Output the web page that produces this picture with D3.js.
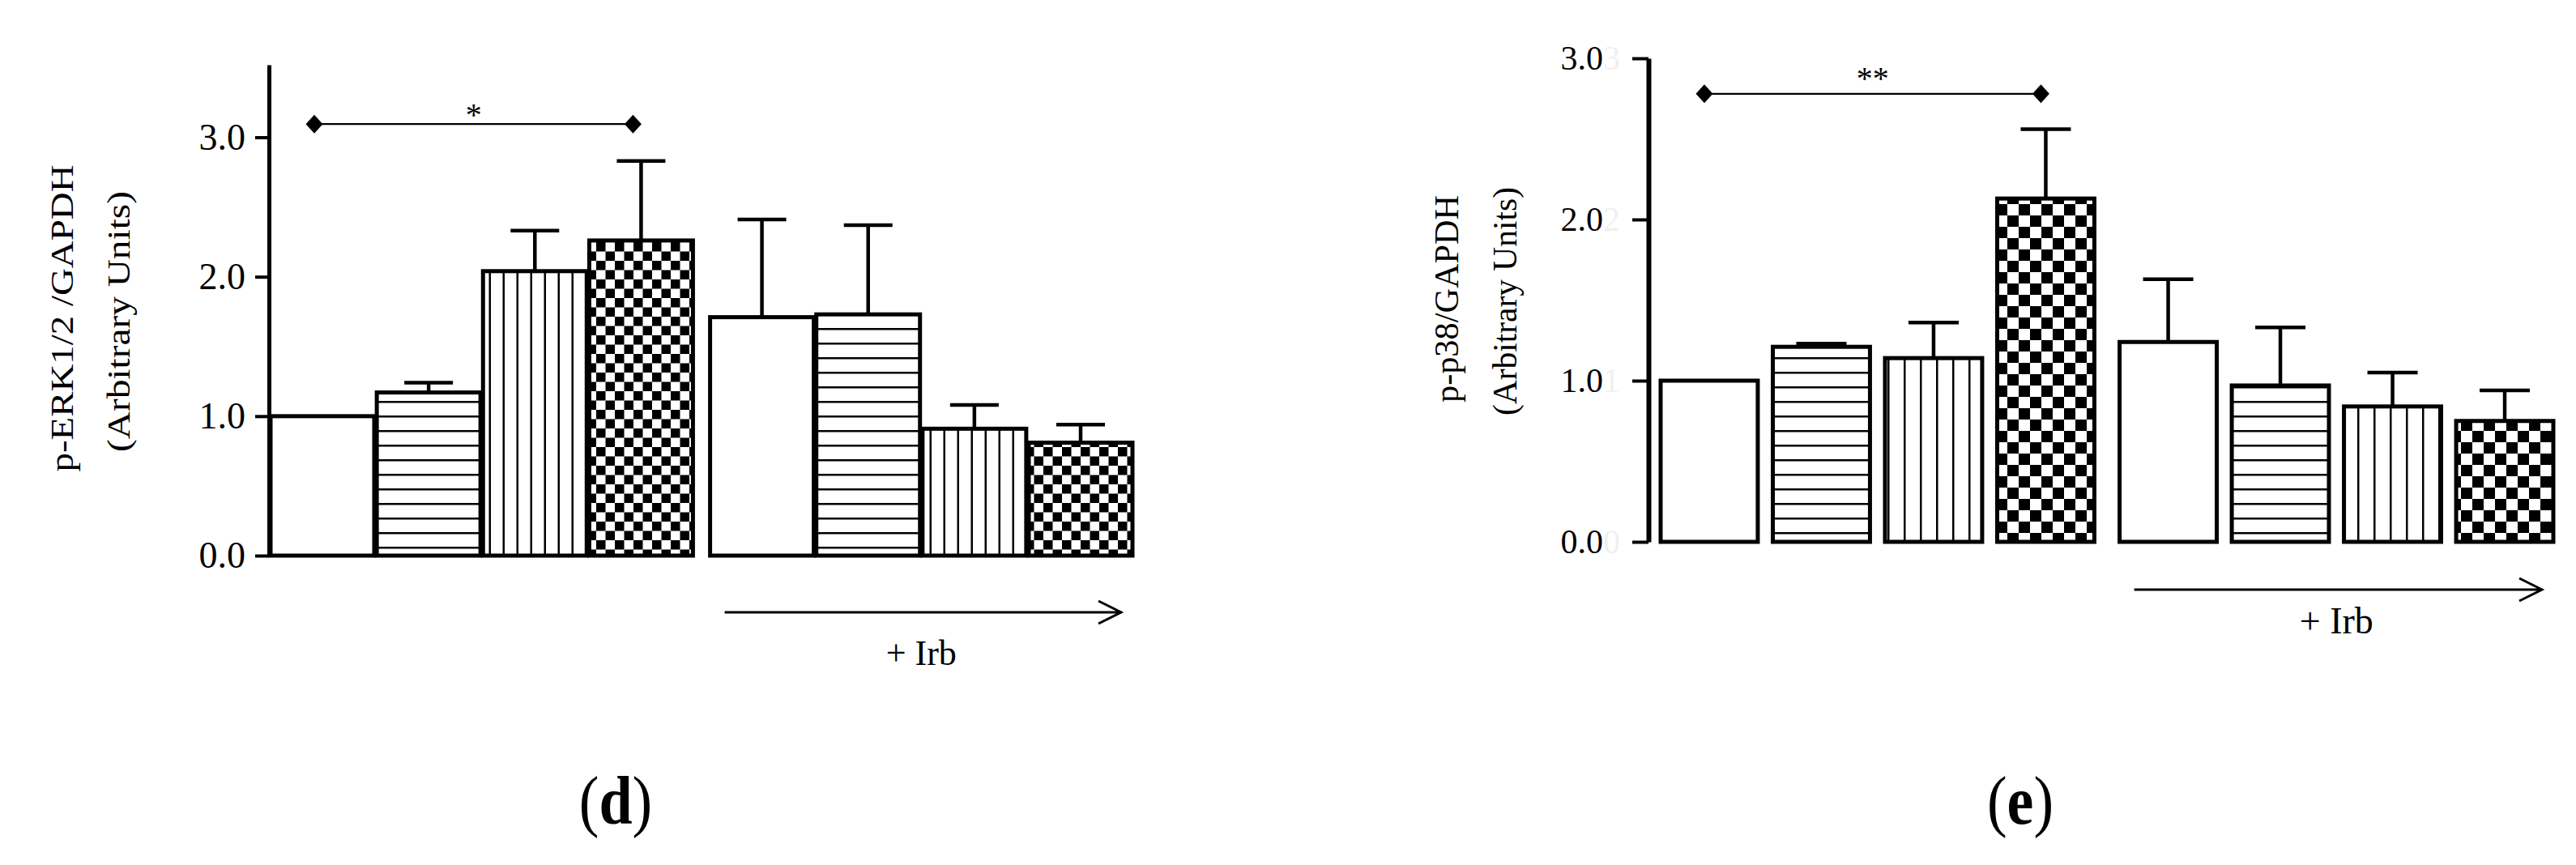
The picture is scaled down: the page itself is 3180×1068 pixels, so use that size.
<!DOCTYPE html>
<html>
<head>
<meta charset="utf-8">
<script src="https://cdn.jsdelivr.net/npm/d3@7/dist/d3.min.js"></script>
<style>
body { margin: 0; background: #fff; }
text { font-family: "Liberation Serif", "Times New Roman", serif; fill: #000; }
</style>
</head>
<body>
<script>
// bars come in two groups of four: without and with irbesartan
var groups = ["noIrb", "irb"];
var conditions = ["c1", "c2", "c3", "c4"];
var fills = ["plain", "hlines", "vlines", "checker"];
var yTicks = [0, 1, 2, 3];

// panel d: p-ERK1/2 / GAPDH
var erkMean = [1.00, 1.17, 2.04, 2.26, 1.71, 1.73, 0.91, 0.81];
var erkErr = [0, 0.07, 0.29, 0.57, 0.70, 0.64, 0.17, 0.13];
var erkSig = 3.095;

// panel e: p-p38 / GAPDH
var p38Mean = [1.00, 1.21, 1.14, 2.13, 1.24, 0.97, 0.84, 0.75];
var p38Err = [0, 0.02, 0.22, 0.43, 0.39, 0.36, 0.21, 0.19];
var p38Sig = 2.78;

var W = 3180, H = 1068;
var svg = d3.select("body").append("svg").attr("width", W).attr("height", H)
    .style("background", "#fff");
var defs = svg.append("defs");

function makePatterns(id, hGap, vGap, cell) {
    var p = defs.append("pattern").attr("id", id + "-hlines")
        .attr("patternUnits", "userSpaceOnUse").attr("width", 10).attr("height", hGap);
    p.append("rect").attr("width", 10).attr("height", hGap).attr("fill", "#fff");
    p.append("rect").attr("y", hGap / 2).attr("width", 10).attr("height", 2.5).attr("fill", "#000");

    p = defs.append("pattern").attr("id", id + "-vlines")
        .attr("patternUnits", "userSpaceOnUse").attr("width", vGap).attr("height", 10);
    p.append("rect").attr("width", vGap).attr("height", 10).attr("fill", "#fff");
    p.append("rect").attr("x", vGap / 2).attr("width", 2.5).attr("height", 10).attr("fill", "#000");

    p = defs.append("pattern").attr("id", id + "-checker")
        .attr("patternUnits", "userSpaceOnUse").attr("width", cell * 2).attr("height", cell * 2);
    p.append("rect").attr("width", cell * 2).attr("height", cell * 2).attr("fill", "#fff");
    p.append("rect").attr("width", cell).attr("height", cell).attr("fill", "#000");
    p.append("rect").attr("x", cell).attr("y", cell).attr("width", cell).attr("height", cell).attr("fill", "#000");
}

function drawPanel(cfg) {
    var g = svg.append("g");
    makePatterns(cfg.id, cfg.hGap, cfg.vGap, cfg.cell);

    var y = d3.scaleLinear().domain([0, cfg.yMax]).range([cfg.y0, cfg.yTop]);
    var outer = d3.scaleBand().domain(groups).range([cfg.x0, cfg.x1]).paddingInner(cfg.groupPad);
    var inner = d3.scaleBand().domain(conditions).range([0, outer.bandwidth()]).paddingInner(cfg.barPad);

    var bars = [];
    groups.forEach(function(gr, gi) {
        conditions.forEach(function(c, ci) {
            var i = gi * conditions.length + ci;
            bars.push({group: gr, cond: c, fill: fills[ci], mean: cfg.mean[i], err: cfg.err[i]});
        });
    });
    var bx = function(d) { return outer(d.group) + inner(d.cond); };
    var bc = function(d) { return bx(d) + inner.bandwidth() / 2; };

    // error bars (upper only)
    var eb = g.selectAll(".err").data(bars.filter(function(d) { return d.err > 0; }))
        .enter().append("g").attr("class", "err")
        .attr("stroke", "#000").attr("stroke-width", 4.5);
    eb.append("line")
        .attr("x1", bc).attr("x2", bc)
        .attr("y1", function(d) { return y(d.mean); })
        .attr("y2", function(d) { return y(d.mean + d.err); });
    eb.append("line")
        .attr("x1", function(d) { return bc(d) - cfg.capW / 2; })
        .attr("x2", function(d) { return bc(d) + cfg.capW / 2; })
        .attr("y1", function(d) { return y(d.mean + d.err); })
        .attr("y2", function(d) { return y(d.mean + d.err); });

    g.selectAll(".bar").data(bars).enter().append("rect")
        .attr("class", "bar")
        .attr("x", bx)
        .attr("width", inner.bandwidth())
        .attr("y", function(d) { return y(d.mean); })
        .attr("height", function(d) { return y(0) - y(d.mean); })
        .attr("fill", function(d) { return d.fill === "plain" ? "#fff" : "url(#" + cfg.id + "-" + d.fill + ")"; })
        .attr("stroke", "#000").attr("stroke-width", cfg.barStroke);

    // y axis
    var ax = g.append("g").attr("transform", "translate(" + cfg.axisX + ",0)")
        .call(d3.axisLeft(y).tickValues(yTicks).tickFormat(d3.format(".1f"))
            .tickSize(cfg.tickSize).tickSizeOuter(0).tickPadding(cfg.tickPad));
    ax.select(".domain").attr("stroke", "#000").attr("stroke-width", cfg.axisW);
    ax.selectAll(".tick line").attr("stroke", "#000").attr("stroke-width", 4);
    ax.selectAll(".tick text").attr("font-size", cfg.tickFs)
        .attr("font-family", "Liberation Serif").attr("fill", "#000");
    if (cfg.ghost) {
        // faint leftover glyph that trails each tick label in the scan
        ax.selectAll(".tick text").each(function(d) {
            d3.select(this).append("tspan").attr("fill", "#f0f0f0").text(d3.format(".1f")(d).charAt(0));
        });
    }

    // y label, two rotated lines
    cfg.ylab.forEach(function(l) {
        g.append("text")
            .attr("transform", "translate(" + l.x + "," + l.y + ") rotate(-90)")
            .attr("text-anchor", "middle").attr("font-size", l.fs)
            .attr("textLength", l.len).attr("lengthAdjust", "spacingAndGlyphs")
            .text(l.text);
    });

    // significance bracket between first and fourth bar
    var sx1 = bc(bars[0]) - cfg.sigShift, sx2 = bc(bars[3]) - cfg.sigShift, sy = y(cfg.sig);
    g.append("line").attr("x1", sx1).attr("x2", sx2).attr("y1", sy).attr("y2", sy)
        .attr("stroke", "#000").attr("stroke-width", 2.2);
    g.selectAll(".dia").data([sx1, sx2]).enter().append("path")
        .attr("class", "dia")
        .attr("d", d3.symbol().type(d3.symbolSquare).size(220))
        .attr("transform", function(d) { return "translate(" + d + "," + sy + ") scale(1,1.1) rotate(45)"; })
        .attr("fill", "#000");
    g.append("text").attr("x", (sx1 + sx2) / 2).attr("y", sy + cfg.starDy)
        .attr("text-anchor", "middle").attr("font-size", 40).attr("fill", "#333")
        .text(cfg.star);

    // "+ Irb" arrow under second group
    var a1 = outer("irb") + 18, a2 = outer("irb") + outer.bandwidth() - 14;
    g.append("path")
        .attr("d", "M" + a1 + "," + cfg.arrowY + "H" + a2 +
            "M" + (a2 - 28) + "," + (cfg.arrowY - 14) + "L" + a2 + "," + cfg.arrowY +
            "L" + (a2 - 28) + "," + (cfg.arrowY + 14))
        .attr("fill", "none").attr("stroke", "#000").attr("stroke-width", 3);
    g.append("text").attr("x", outer("irb") + outer.bandwidth() / 2).attr("y", cfg.irbY)
        .attr("text-anchor", "middle").attr("font-size", cfg.irbFs)
        .text("+ Irb");

    // panel letter
    var pl = g.append("text")
        .attr("transform", "translate(" + cfg.labX + ",1017) scale(0.88,1)")
        .attr("text-anchor", "middle").attr("font-size", 84);
    pl.append("tspan").text("(");
    pl.append("tspan").attr("font-weight", "bold").text(cfg.letter);
    pl.append("tspan").text(")");
}

drawPanel({
    id: "d", mean: erkMean, err: erkErr, sig: erkSig, star: "*", starDy: 2, sigShift: 10,
    x0: 334, x1: 1398, groupPad: 0.039, barPad: 0.024,
    y0: 686, yTop: 80, yMax: 3.52, axisX: 332, axisW: 5,
    tickSize: 17, tickPad: 12, tickFs: 46, ghost: false,
    barStroke: 5, capW: 60, hGap: 18, vGap: 17, cell: 11.5,
    ylab: [
        {text: "p-ERK1/2 /GAPDH", x: 90, y: 393, len: 379, fs: 39},
        {text: "(Arbitrary Units)", x: 160, y: 397, len: 322, fs: 40}
    ],
    arrowY: 756, irbY: 821, irbFs: 44,
    letter: "d", labX: 760
});

drawPanel({
    id: "e", mean: p38Mean, err: p38Err, sig: p38Sig, star: "**", starDy: -6, sigShift: 6,
    x0: 2050, x1: 3152, groupPad: 0.055, barPad: 0.134,
    y0: 669, yTop: 72, yMax: 3, axisX: 2035, axisW: 6,
    tickSize: 20, tickPad: 15, tickFs: 42, ghost: true,
    barStroke: 5, capW: 62, hGap: 18, vGap: 20, cell: 14,
    ylab: [
        {text: "p-p38/GAPDH", x: 1800, y: 369, len: 256, fs: 42},
        {text: "(Arbitrary Units)", x: 1872, y: 372, len: 282, fs: 42}
    ],
    arrowY: 728, irbY: 782, irbFs: 46,
    letter: "e", labX: 2494
});
</script>
</body>
</html>
